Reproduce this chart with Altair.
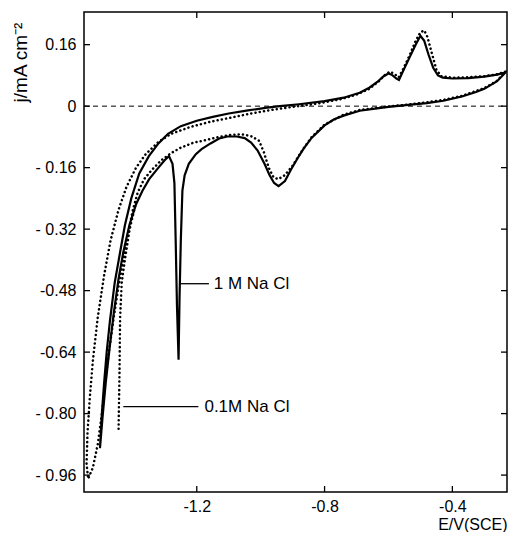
import altair as alt
import pandas as pd

# ---- data ----
solid_x = [-0.233, -0.26, -0.30, -0.326, -0.37, -0.428, -0.48, -0.53, -0.60, -0.636, -0.69, -0.738, -0.77, -0.80,
           -0.84, -0.865, -0.884, -0.905, -0.924, -0.944, -0.958, -0.972, -0.988, -1.01, -1.03, -1.05, -1.075,
           -1.104, -1.13, -1.157, -1.185, -1.203, -1.225, -1.238, -1.245, -1.250, -1.254, -1.257, -1.262, -1.266,
           -1.27, -1.276, -1.287, -1.30, -1.32, -1.349, -1.37, -1.39, -1.411, -1.43, -1.445, -1.46, -1.473, -1.485,
           -1.495, -1.503,
           -1.497, -1.49, -1.482, -1.472, -1.457, -1.44, -1.425, -1.405, -1.38, -1.35, -1.32, -1.29, -1.25, -1.20,
           -1.15, -1.10, -1.04, -0.98, -0.94, -0.88, -0.80, -0.74, -0.69, -0.66, -0.635, -0.615, -0.60, -0.59,
           -0.575, -0.567, -0.555, -0.535, -0.515, -0.50, -0.488, -0.475, -0.46, -0.445, -0.43, -0.40, -0.35,
           -0.30, -0.26, -0.233]
solid_y = [0.088, 0.065, 0.045, 0.037, 0.025, 0.014, 0.008, 0.004, -0.002, -0.006, -0.012, -0.024, -0.034, -0.05,
           -0.082, -0.11, -0.135, -0.165, -0.195, -0.208, -0.2, -0.18, -0.15, -0.115, -0.095, -0.083, -0.079,
           -0.079, -0.084, -0.097, -0.112, -0.125, -0.15, -0.18, -0.22, -0.35, -0.50, -0.66, -0.52, -0.35,
           -0.20, -0.15, -0.13, -0.14, -0.16, -0.19, -0.22, -0.255, -0.31, -0.38, -0.45, -0.54, -0.63, -0.72,
           -0.81, -0.89,
           -0.80, -0.72, -0.64, -0.56, -0.46, -0.38, -0.31, -0.24, -0.175, -0.13, -0.097, -0.072, -0.052, -0.038,
           -0.028, -0.019, -0.011, -0.004, 0.0, 0.005, 0.013, 0.022, 0.035, 0.048, 0.063, 0.078, 0.085, 0.082,
           0.072, 0.068, 0.09, 0.125, 0.16, 0.183, 0.17, 0.135, 0.10, 0.08, 0.074, 0.072, 0.073,
           0.077, 0.082, 0.088]

dot_x = [-0.233, -0.26, -0.30, -0.37, -0.43, -0.48, -0.53, -0.60, -0.69, -0.74, -0.80, -0.84, -0.87, -0.90,
         -0.925, -0.945, -0.96, -0.975, -0.99, -1.005, -1.03, -1.06, -1.095, -1.13, -1.17, -1.21, -1.25, -1.28,
         -1.31, -1.34, -1.365, -1.385, -1.40, -1.415, -1.43, -1.445, -1.46, -1.475, -1.487, -1.497, -1.51,
         -1.525, -1.54,
         -1.545, -1.542, -1.535, -1.525, -1.51, -1.49, -1.47, -1.445, -1.42, -1.39, -1.36, -1.32, -1.28, -1.22,
         -1.16, -1.10, -1.03, -0.96, -0.90, -0.82, -0.75, -0.70, -0.66, -0.63, -0.61, -0.595, -0.58, -0.568,
         -0.555, -0.535, -0.515, -0.50, -0.488, -0.478, -0.465, -0.45, -0.435, -0.40, -0.35, -0.30, -0.26,
         -0.233]
dot_y = [0.09, 0.066, 0.047, 0.027, 0.016, 0.01, 0.005, -0.001, -0.01, -0.022, -0.048, -0.08, -0.115, -0.155,
         -0.18, -0.19, -0.185, -0.16, -0.12, -0.09, -0.078, -0.073, -0.075, -0.08, -0.088, -0.095, -0.108, -0.122,
         -0.14, -0.165, -0.19, -0.225, -0.27, -0.33, -0.40, -0.47, -0.55, -0.64, -0.72, -0.80, -0.88,
         -0.94, -0.97,
         -0.93, -0.85, -0.76, -0.66, -0.55, -0.44, -0.35, -0.27, -0.21, -0.16, -0.125, -0.093, -0.072, -0.054,
         -0.041, -0.031, -0.019, -0.009, -0.002, 0.007, 0.018, 0.03, 0.045, 0.065, 0.082, 0.09, 0.083, 0.075,
         0.095, 0.13, 0.17, 0.192, 0.197, 0.18, 0.14, 0.095, 0.078, 0.074, 0.075, 0.078, 0.083,
         0.09]

dot2_x = [-1.39, -1.41, -1.425, -1.435, -1.44, -1.442, -1.445]
dot2_y = [-0.25, -0.32, -0.40, -0.46, -0.55, -0.70, -0.85]

y_tick_vals = [0.16, 0.0, -0.16, -0.32, -0.48, -0.64, -0.80, -0.96]
y_tick_text = ["0.16", "0", "- 0.16", "- 0.32", "-0.48", "-0.64", "- 0.80", "- 0.96"]
x_tick_vals = [-1.2, -0.8, -0.4]
x_tick_text = ["-1.2", "-0.8", "-0.4"]

label_text = ["1 M Na Cl", "0.1M Na Cl"]
label_x = [-1.147, -1.176]
label_y = [-0.462, -0.782]
leader_x1 = [-1.252, -1.43]
leader_x2 = [-1.162, -1.195]

x_domain = [-1.553, -0.229]
y_domain = [-1.004, 0.245]

# ---- build ----
W, H = 423, 480
FONT = "Liberation Sans"

solid = pd.DataFrame({"x": solid_x, "y": solid_y, "o": range(len(solid_x))})
dotted = pd.DataFrame({"x": dot_x, "y": dot_y, "o": range(len(dot_x))})
dotted2 = pd.DataFrame({"x": dot2_x, "y": dot2_y, "o": range(len(dot2_x))})
yt = pd.DataFrame({"v": y_tick_vals})
xt = pd.DataFrame({"v": x_tick_vals})
ann = pd.DataFrame({"t": label_text, "x": label_x, "y": label_y, "x1": leader_x1, "x2": leader_x2})


def label_expr(vals, texts):
    expr = "''"
    for v, t in zip(reversed(vals), reversed(texts)):
        expr = f"abs(datum.value - ({v})) < 1e-6 ? '{t}' : ({expr})"
    return expr


xs = alt.Scale(domain=x_domain, nice=False, zero=False)
ys = alt.Scale(domain=y_domain, nice=False, zero=False)

x_axis = alt.Axis(values=x_tick_vals, labelExpr=label_expr(x_tick_vals, x_tick_text), ticks=False,
                  domain=False, grid=False, labelPadding=6, labelFontSize=16, labelFont=FONT,
                  labelColor="black", title="E/V(SCE)", titleFont=FONT, titleFontSize=16,
                  titleFontWeight="normal", titleColor="black", titleAnchor="end", titleAlign="right",
                  titleX=W, titleY=32, titleBaseline="middle")
y_axis = alt.Axis(values=y_tick_vals, labelExpr=label_expr(y_tick_vals, y_tick_text), ticks=False,
                  domain=False, grid=False, labelPadding=8, labelFontSize=16, labelFont=FONT,
                  labelColor="black", title="j/mA cm⁻²", titleFont=FONT, titleFontSize=19,
                  titleFontWeight="normal", titleColor="black", titleAngle=-90, titleX=-64, titleY=50,
                  titleAlign="center", titleBaseline="middle")

base_solid = alt.Chart(solid).mark_line(color="black", strokeWidth=2.2, clip=True).encode(
    x=alt.X("x:Q", scale=xs, axis=x_axis),
    y=alt.Y("y:Q", scale=ys, axis=y_axis),
    order="o:Q",
)
dots = alt.Chart(dotted).mark_line(color="black", strokeWidth=2.5, strokeDash=[0.1, 4.2],
                                   strokeCap="round", clip=True).encode(
    x=alt.X("x:Q", scale=xs), y=alt.Y("y:Q", scale=ys), order="o:Q")
dots2 = alt.Chart(dotted2).mark_line(color="black", strokeWidth=2.5, strokeDash=[0.1, 4.2],
                                     strokeCap="round", clip=True).encode(
    x=alt.X("x:Q", scale=xs), y=alt.Y("y:Q", scale=ys), order="o:Q")

zero = alt.Chart(pd.DataFrame({"v": [0.0]})).mark_rule(color="black", strokeWidth=1, strokeDash=[5, 4]).encode(
    y=alt.Y("v:Q", scale=ys), x=alt.value(0), x2=alt.value(W))

TL = 6
tick_left = alt.Chart(yt).mark_rule(color="black", strokeWidth=1.3).encode(
    y=alt.Y("v:Q", scale=ys), x=alt.value(0), x2=alt.value(TL))
tick_right = alt.Chart(yt).mark_rule(color="black", strokeWidth=1.3).encode(
    y=alt.Y("v:Q", scale=ys), x=alt.value(W - TL), x2=alt.value(W))
tick_top = alt.Chart(xt).mark_rule(color="black", strokeWidth=1.3).encode(
    x=alt.X("v:Q", scale=xs), y=alt.value(0), y2=alt.value(TL))
tick_bottom = alt.Chart(xt).mark_rule(color="black", strokeWidth=1.3).encode(
    x=alt.X("v:Q", scale=xs), y=alt.value(H - TL), y2=alt.value(H))

leaders = alt.Chart(ann).mark_rule(color="black", strokeWidth=1.3).encode(
    x=alt.X("x1:Q", scale=xs), x2="x2:Q", y=alt.Y("y:Q", scale=ys))
texts = alt.Chart(ann).mark_text(align="left", baseline="middle", font=FONT, fontSize=17,
                                 color="black").encode(
    x=alt.X("x:Q", scale=xs), y=alt.Y("y:Q", scale=ys), text="t:N")

chart = alt.layer(zero, tick_left, tick_right, tick_top, tick_bottom, base_solid, dots, dots2,
                  leaders, texts).properties(
    width=W, height=H,
    autosize=alt.AutoSizeParams(type="none"),
    padding={"left": 76, "top": 4, "right": 1, "bottom": 40},
    background="white",
).configure_view(stroke="black", strokeWidth=1.5)

chart.save("out.html", embed_options={"renderer": "svg", "actions": False})
